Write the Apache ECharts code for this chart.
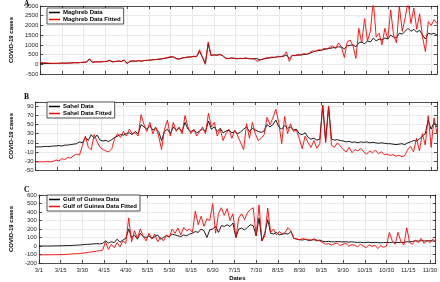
<!DOCTYPE html>
<html>
<head>
<meta charset="utf-8">
<script src="https://cdn.jsdelivr.net/npm/echarts@6/dist/echarts.min.js"></script>
<style>
html, body { margin: 0; padding: 0; background: #fff; }
#chart { width: 440px; height: 282px; }
</style>
</head>
<body>
<div id="chart"></div>
<script>
// x tick labels, one every 15 days from 3/1
var dateLabels = ['3/1', '3/15', '3/30', '4/15', '4/30', '5/15', '5/30', '6/15', '6/30',
    '7/15', '7/30', '8/15', '8/30', '9/15', '9/30', '10/15', '10/30', '11/15', '11/30'];
// values read every 2 days starting at 3/1
var dayStep = 2;

var maghrebData = [
    30, 35, 40, 40, 45, 50, 50, 55, 60, 55, 65,
    70, 80, 75, 90, 100, 110, 260,
    110, 120, 130, 125, 140, 150, 190, 130,
    140, 160, 150, 200, 60, 150, 170, 160, 180, 170, 190,
    200, 210, 230, 250, 260, 280, 300, 330,
    360, 380, 300, 280, 320, 350, 370, 380, 400, 390,
    650, 380, 50, 1050,
    450, 480, 470, 500, 450, 320,
    300, 320, 310, 300, 290, 300, 310, 300, 280, 300,
    280, 220, 260, 300,
    320, 340, 360, 380, 400, 410, 480, 300, 450, 460, 470, 480, 500, 520,
    560, 620, 680, 700, 720, 760, 800,
    820, 850, 870, 900, 880, 800, 950, 980, 1000, 900,
    1100, 1150, 1050, 1200, 1150, 1350, 1200,
    1300, 1250, 1350, 1300, 1500, 1400, 1350, 1600, 1550,
    1700, 1850, 1700, 1800, 1650, 1750, 1500, 1300,
    1600, 1550, 1600, 1500
];
var maghrebFitted = [
    100, 90, 70, 60, 50, 50, 50, 55, 60, 55, 70,
    75, 85, 80, 95, 110, 120, 290,
    100, 130, 120, 130, 150, 140, 220, 120,
    150, 170, 140, 230, 20, 160, 190, 150, 190, 160, 200,
    210, 220, 250, 240, 270, 290, 320, 350,
    400, 370, 280, 260, 330, 340, 380, 370, 420, 400,
    750, 350, 0, 1150,
    430, 500, 460, 520, 430, 300,
    280, 330, 300, 280, 310, 290, 330, 280, 300, 250,
    150, 230, 280, 330,
    330, 380, 340, 420, 380, 450, 640, 150, 470, 430, 520, 470, 560, 500,
    600, 700, 650, 760, 720, 820, 780,
    880, 950, 800, 1100, 900, 350, 1150, 1250, 950, 300,
    1850, 1100, 2350, 1200, 1700, 3300, 1400,
    1600, 1000, 1850, 1300, 2800, 1500, 1100, 3000, 1700,
    2400, 3200, 2100, 2900, 1800, 2600, 1400, 650,
    2200, 2000, 2300, 2100
];

var sahelData = [
    1, 1, 1, 2, 2, 2, 3, 3,
    4, 3, 5, 5, 6, 7, 8,
    12, 10, 22, 15, 28, 20, 27,
    16, 14, 15, 13, 17,
    22, 25, 28, 27,
    30, 32, 28, 35, 30,
    50,
    45, 40, 48, 38, 42, 35,
    15,
    35, 40, 30, 45, 38, 42, 35,
    55,
    40, 35, 38, 32, 36, 40, 35,
    58,
    40, 45, 35, 42, 32,
    36, 38, 32, 35, 30, 34,
    40, 45, 35, 42, 38,
    35, 33, 36,
    50,
    45, 50, 60,
    45, 40, 48, 42,
    45, 38, 40,
    30, 28, 32,
    22, 18, 20, 16, 18,
    93, 15, 90,
    18, 16, 17, 15,
    14, 12, 13, 11, 12, 10, 12,
    11, 12, 10, 11, 10, 9, 10, 9,
    8, 8, 7, 6, 7, 8, 6,
    10, 12, 15, 14,
    18, 25, 30,
    60, 40, 55, 45
];
var sahelFitted = [
    -32, -32, -32, -32, -31, -32, -31, -28,
    -30, -25, -27, -22, -24, -18, -15,
    -17, 4, 25, 0, -5, 28, 12,
    0, -5, -8, -10, -3,
    20, 30, 22, 35,
    25, 40, 30, 32, 25,
    72,
    50, 35, 55, 30, 45, 25,
    -5,
    40, 60, 25, 55, 35, 45, 30,
    70,
    45, 30, 40, 25, 35, 45, 30,
    75,
    45, 55, 25, 40, 15,
    30, 40, 20, 38, 25, 10,
    -5, 52, 20, 55, 30,
    15, 20, 28,
    66,
    50, 65, 84,
    55, 8, 68, 30,
    52, 35, 38,
    20, -3, 25,
    10, 0, 15, -2, 8,
    93, 10, 90,
    5, 0, 10, 3,
    -5, -10, 0, -12, -5, -8, -2,
    -10, -15, -8, -12, -6, -14, -10, -16,
    -15, -18, -16, -20, -17, -21, -18,
    -5, 2, -10, 20,
    -8, 30, 5,
    70, 0, 65, 30
];

var guineaData = [
    0, 0, 0, 0, 0, 1, 2, 2, 3, 4, 5, 6, 8, 10,
    12, 15, 18, 20, 22, 25, 28, 25, 30,
    60,
    35, 50, 40, 80, 45,
    70, 90,
    200,
    100, 130, 80, 150, 110,
    100, 120, 90, 110, 130, 80, 100, 120,
    110, 140, 130,
    120, 110, 130, 120, 140, 150,
    170, 160, 200, 180, 100, 190, 200,
    230, 160, 240, 230,
    250, 230, 270,
    100,
    200, 210, 190, 220,
    250, 240,
    120,
    330, 60, 150, 310,
    150, 140, 160, 130, 140, 145,
    140, 170,
    90, 80, 75, 70, 80, 65, 70, 75, 60, 70,
    55, 50, 55, 50, 48, 52, 50, 48, 50, 45, 50,
    45, 42, 45, 40, 42, 44, 40, 42, 40, 38, 40,
    42, 40, 45, 42, 40, 45, 42, 50, 48,
    55, 60, 58, 62, 60,
    58, 62, 60, 55
];
var guineaFitted = [
    -105, -104, -104, -103, -104, -103, -102, -102, -100, -100, -98, -95, -92, -90,
    -88, -85, -80, -75, -70, -65, -60, -55, -50,
    50,
    -40, 20, -20, 40, -10,
    60, 30,
    330,
    50, 180, 90, 200, 120,
    60, 150, 80, 140, 50, 100, 60, 130,
    100, 200, 150,
    210, 130, 220, 180, 200, 160,
    410, 250, 350, 230, 320, 300, 500,
    150, 380, 450, 360,
    440, 300, 380,
    100,
    330, 380, 310, 390,
    430, 450,
    120,
    485, 60, 120, 445,
    160, 200, 130, 170, 140, 160,
    215, 180,
    90, 85, 70, 90, 75, 80, 65, 85, 70, 60,
    40, 20, 30, 10, 25, 35, 5, 20, 30, 0, 15,
    10, -10, 20, 0, -20, 15, -5, 10, -30, 5, -15,
    0, 160, 60, 20, 160, 50, 10, 215, 40,
    20, 70, 40, 90, 30,
    70, 40, 80, 50
];

var panels = [
    { letter: 'A', names: ['Maghreb Data', 'Maghreb Data Fitted'], data: maghrebData, fit: maghrebFitted,
      yMin: -500, yMax: 3000, yStep: 500 },
    { letter: 'B', names: ['Sahel Data', 'Sahel Data Fitted'], data: sahelData, fit: sahelFitted,
      yMin: -50, yMax: 100, yStep: 20 },
    { letter: 'C', names: ['Gulf of Guinea Data', 'Gulf of Guinea Data Fitted'], data: guineaData, fit: guineaFitted,
      yMin: -200, yMax: 600, yStep: 100 }
];
// layout: plot tops / heights in px
var gridTops = [6, 102, 195];
var gridHeights = [68, 68, 69];
var legendTops = [8, 102, 195];

var axisColor = '#262626';
var font = 'Liberation Sans, Arial, Helvetica, sans-serif';

function toPairs(values) {
    return values.map(function (v, i) { return [i * dayStep, v]; });
}

var option = {
    animation: false,
    backgroundColor: '#fff',
    title: [], grid: [], xAxis: [], yAxis: [], legend: [], series: []
};

panels.forEach(function (p, i) {
    var last = i === panels.length - 1;
    option.grid.push({ left: 25, right: 3, top: gridTops[i], height: gridHeights[i], containLabel: false });
    option.title.push({
        text: p.letter, left: 24, top: Math.max(0, gridTops[i] - 9), padding: 0,
        textStyle: { fontFamily: 'Liberation Serif, Times New Roman, serif', fontWeight: 'bold', fontSize: 7.5, color: '#000' }
    });
    // bottom x axis
    option.xAxis.push({
        type: 'value', gridIndex: i, min: 0, max: 274, interval: 15,
        axisLine: { onZero: false, lineStyle: { color: axisColor, width: 0.8 } },
        axisTick: { inside: true, length: 3, lineStyle: { color: axisColor, width: 0.8 } },
        axisLabel: {
            show: last, fontSize: 6, color: axisColor, margin: 4, fontFamily: font,
            formatter: function (v) {
                var k = v / 15;
                return (k === Math.round(k) && dateLabels[k]) || '';
            }
        },
        splitLine: { show: true, lineStyle: { color: '#e3e3e3', width: 0.8 } },
        name: last ? 'Dates' : '', nameLocation: 'middle', nameGap: 12,
        nameTextStyle: { fontSize: 6, fontWeight: 'bold', color: '#000', fontFamily: font }
    });
    // top x axis (ticks only)
    option.xAxis.push({
        type: 'value', gridIndex: i, min: 0, max: 274, interval: 15, position: 'top',
        axisLine: { onZero: false, lineStyle: { color: axisColor, width: 0.8 } },
        axisTick: { inside: true, length: 3, lineStyle: { color: axisColor, width: 0.8 } },
        axisLabel: { show: false }, splitLine: { show: false }
    });
    // left y axis
    option.yAxis.push({
        type: 'value', gridIndex: i, min: p.yMin, max: p.yMax, interval: p.yStep,
        axisLine: { show: true, onZero: false, lineStyle: { color: axisColor, width: 0.8 } },
        axisTick: { show: true, inside: true, length: 3, lineStyle: { color: axisColor, width: 0.8 } },
        axisLabel: {
            fontSize: 6, color: axisColor, margin: 2, fontFamily: font,
            formatter: function (v) {
                return ((v - p.yMin) % p.yStep === 0) ? String(v) : '';
            }
        },
        splitLine: { show: true, lineStyle: { color: '#e3e3e3', width: 0.8 } },
        name: 'COVID-19 cases', nameLocation: 'middle', nameRotate: 90, nameGap: 15,
        nameTextStyle: { fontSize: 6, fontWeight: 'bold', color: '#000', fontFamily: font }
    });
    // right y axis (ticks only)
    option.yAxis.push({
        type: 'value', gridIndex: i, min: p.yMin, max: p.yMax, interval: p.yStep, position: 'right',
        axisLine: { show: true, onZero: false, lineStyle: { color: axisColor, width: 0.8 } },
        axisTick: { show: true, inside: true, length: 3, lineStyle: { color: axisColor, width: 0.8 } },
        axisLabel: { show: false }, splitLine: { show: false }
    });
    option.legend.push({
        data: p.names, left: 47, top: legendTops[i], orient: 'vertical',
        backgroundColor: '#fff', borderColor: axisColor, borderWidth: 0.8,
        padding: [1, 3, 1, 2], itemGap: 0, itemWidth: 11, itemHeight: 1.5, icon: 'rect',
        textStyle: { fontSize: 6, lineHeight: 7, fontWeight: 'bold', color: '#000', fontFamily: font, padding: [0, 0, 0, -2] }
    });
    option.series.push({
        name: p.names[0], type: 'line', xAxisIndex: 2 * i, yAxisIndex: 2 * i,
        data: toPairs(p.data), symbol: 'none', color: '#000',
        lineStyle: { color: '#000', width: 0.9 }
    });
    option.series.push({
        name: p.names[1], type: 'line', xAxisIndex: 2 * i, yAxisIndex: 2 * i,
        data: toPairs(p.fit), symbol: 'none', color: '#ff0000',
        lineStyle: { color: '#ff0000', width: 0.9 }
    });
});

var myChart = echarts.init(document.getElementById('chart'), null, { renderer: 'canvas' });
myChart.setOption(option);
</script>
</body>
</html>
